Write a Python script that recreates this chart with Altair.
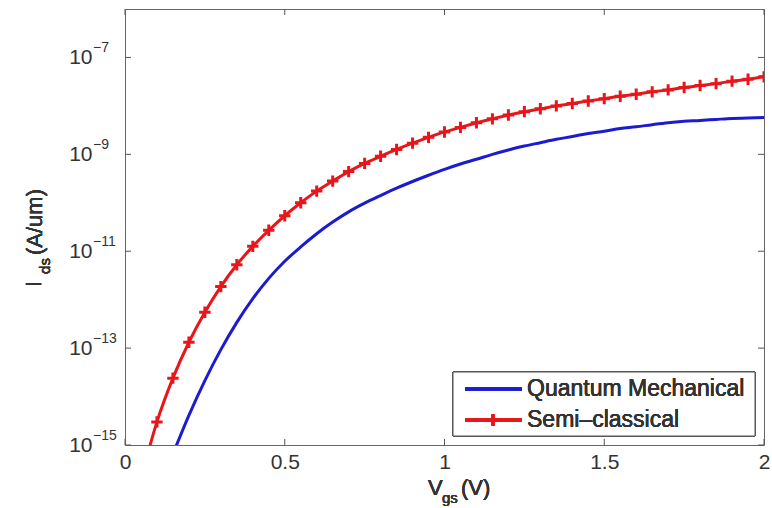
import altair as alt
import pandas as pd

# ---- data ----
semi_v = [0.05, 0.10, 0.15, 0.20, 0.25, 0.30, 0.35, 0.40, 0.45, 0.50,
          0.55, 0.60, 0.65, 0.70, 0.75, 0.80, 0.85, 0.90, 0.95, 1.00,
          1.05, 1.10, 1.15, 1.20, 1.25, 1.30, 1.35, 1.40, 1.45, 1.50,
          1.55, 1.60, 1.65, 1.70, 1.75, 1.80, 1.85, 1.90, 1.95, 2.00]
semi_i = [2.0e-16, 3.0e-15, 2.4e-14, 1.32e-13, 5.5e-13, 1.86e-12, 5.25e-12, 1.26e-11, 2.7e-11, 5.4e-11,
          1.0e-10, 1.74e-10, 2.8e-10, 4.4e-10, 6.5e-10, 9.1e-10, 1.26e-9, 1.7e-9, 2.24e-9, 2.9e-9,
          3.6e-9, 4.5e-9, 5.4e-9, 6.5e-9, 7.6e-9, 8.7e-9, 1.0e-8, 1.12e-8, 1.26e-8, 1.41e-8,
          1.58e-8, 1.74e-8, 1.95e-8, 2.14e-8, 2.4e-8, 2.63e-8, 2.88e-8, 3.24e-8, 3.55e-8, 3.98e-8]

qm_v = [0.15, 0.20, 0.25, 0.30, 0.35, 0.40, 0.45, 0.50, 0.55, 0.60,
        0.65, 0.70, 0.75, 0.80, 0.85, 0.90, 0.95, 1.00, 1.05, 1.10,
        1.15, 1.20, 1.25, 1.30, 1.35, 1.40, 1.45, 1.50, 1.55, 1.60,
        1.65, 1.70, 1.75, 1.80, 1.85, 1.90, 1.95, 2.00]
qm_i = [6.5e-16, 4.1e-15, 2.14e-14, 9.3e-14, 3.4e-13, 1.05e-12, 2.75e-12, 6.2e-12, 1.23e-11, 2.3e-11,
        4.0e-11, 6.5e-11, 9.8e-11, 1.41e-10, 2.0e-10, 2.75e-10, 3.7e-10, 4.9e-10, 6.3e-10, 7.9e-10,
        1.0e-9, 1.23e-9, 1.48e-9, 1.74e-9, 2.04e-9, 2.34e-9, 2.7e-9, 3.0e-9, 3.4e-9, 3.7e-9,
        4.1e-9, 4.5e-9, 4.8e-9, 5.0e-9, 5.25e-9, 5.5e-9, 5.6e-9, 5.75e-9]

series_names = ["Quantum Mechanical", "Semi\u2013classical"]
series_colors = ["#1c1ccf", "#e8161b"]

x_ticks = [0, 0.5, 1, 1.5, 2]
y_ticks = [1e-15, 1e-13, 1e-11, 1e-9, 1e-7]
y_exps = ["\u221215", "\u221213", "\u221211", "\u22129", "\u22127"]

# ---- geometry ----
W, H = 639, 436
FONT = "Liberation Sans"
TXT = "#333333"
PLUS = "M-1,0H1M0,-1V1"

qm = pd.DataFrame({"V": qm_v, "I": qm_i, "s": series_names[0]})
semi = pd.DataFrame({"V": semi_v, "I": semi_i, "s": series_names[1]})
xt = pd.DataFrame({"V": x_ticks})
yt = pd.DataFrame({"I": y_ticks, "exp": y_exps})

xs = alt.Scale(domain=[0, 2], nice=False)
ys = alt.Scale(type="log", domain=[1e-15, 1e-6], nice=False)

x_axis = alt.Axis(values=x_ticks, ticks=False, domain=False, grid=False, title=None,
                  labelFontSize=21, labelFont=FONT, labelColor=TXT, labelPadding=6,
                  labelFlush=False, labelOverlap=False,
                  labelExpr="datum.value == 0 ? '0' : format(datum.value, '')")
y_axis = alt.Axis(values=y_ticks, ticks=False, domain=False, grid=False, title=None,
                  labelFontSize=21, labelFont=FONT, labelColor=TXT, labelPadding=33,
                  labelFlush=False, labelOverlap=False,
                  labelExpr="'10'")

qm_line = alt.Chart(qm).mark_line(color=series_colors[0], strokeWidth=3, clip=True,
                                  interpolate="monotone").encode(
    x=alt.X("V:Q", scale=xs, axis=x_axis),
    y=alt.Y("I:Q", scale=ys, axis=y_axis),
)
semi_line = alt.Chart(semi).mark_line(color=series_colors[1], strokeWidth=3, clip=True,
                                      interpolate="monotone").encode(
    x="V:Q", y="I:Q")
semi_pts = alt.Chart(semi).mark_point(shape=PLUS, size=130, color=series_colors[1],
                                      strokeWidth=3, filled=False, opacity=1, clip=True).encode(
    x="V:Q", y="I:Q")

# inward ticks (MATLAB style box)
tick_col = "#555555"
xb = alt.Chart(xt).mark_rule(color=tick_col, strokeWidth=1).encode(x="V:Q", y=alt.value(H), y2=alt.value(H - 6))
xtop = alt.Chart(xt).mark_rule(color=tick_col, strokeWidth=1).encode(x="V:Q", y=alt.value(0), y2=alt.value(6))
yl = alt.Chart(yt).mark_rule(color=tick_col, strokeWidth=1).encode(y="I:Q", x=alt.value(0), x2=alt.value(6))
yr = alt.Chart(yt).mark_rule(color=tick_col, strokeWidth=1).encode(y="I:Q", x=alt.value(W), x2=alt.value(W - 6))

# exponents of the y tick labels
yexp = alt.Chart(yt).mark_text(align="left", baseline="middle", dy=-9, fontSize=14,
                               font=FONT, color=TXT).encode(
    y="I:Q", x=alt.value(-32), text="exp:N")

# axis titles with subscripts
def txt(s, x, y, size, angle=0, align="left"):
    kw = dict(align=align, baseline="middle", fontSize=size, font=FONT, color=TXT, text=s)
    if angle:
        kw["angle"] = angle
    return alt.Chart(xt).mark_text(**kw).encode(x=alt.value(x), y=alt.value(y))

x_title = [txt("V", 303, 479, 22), txt("gs", 317, 489, 15), txt("(V)", 336, 479, 22)]
y_title = [txt("I", -91, 275, 22, 270, "center"), txt("ds", -80, 257, 15, 270, "center"),
           txt("(A/um)", -90, 213, 22, 270, "center")]

# legend
legend_box = alt.Chart(xt).mark_rect(fill="white", stroke="#555555", strokeWidth=1).encode(
    x=alt.value(328), x2=alt.value(630), y=alt.value(363), y2=alt.value(427))
legend_layers = [legend_box]
for i, (name, col) in enumerate(zip(series_names, series_colors)):
    yy = 380 + 31 * i
    legend_layers.append(alt.Chart(xt).mark_rule(color=col, strokeWidth=3).encode(
        x=alt.value(340), x2=alt.value(397), y=alt.value(yy)))
    legend_layers.append(txt(name, 402, yy, 23))
legend_layers.append(alt.Chart(xt).mark_point(shape=PLUS, size=130, color=series_colors[1],
                                               strokeWidth=3, filled=False, opacity=1).encode(
    x=alt.value(368), y=alt.value(411)))

chart = alt.layer(
    qm_line, semi_line, semi_pts, xb, xtop, yl, yr, yexp, *x_title, *y_title, *legend_layers
).properties(
    width=W, height=H,
    autosize=alt.AutoSizeParams(type="none"),
    padding={"left": 125, "top": 9, "right": 8, "bottom": 63},
    background="white",
).configure_view(stroke="#666666", strokeWidth=1)

chart.save("out.html", embed_options={"renderer": "svg", "actions": False})
